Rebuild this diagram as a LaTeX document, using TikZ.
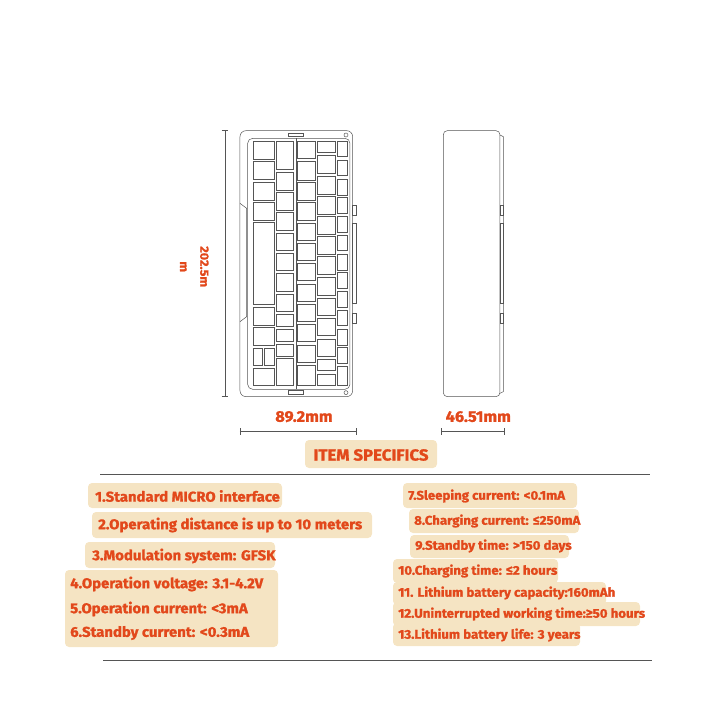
\documentclass[tikz,border=0pt]{standalone}
\usepackage{fontspec}
\newfontfamily\cond[FakeStretch=1.05,FakeBold=1.3]{Fira Sans}
\definecolor{bx}{HTML}{F5E4C3}
\definecolor{tx}{HTML}{E2481B}
\definecolor{ln}{HTML}{555555}
\begin{document}
\begin{tikzpicture}[x=1pt,y=-1pt,
 box/.style={fill=bx,rounded corners=4pt,draw=none},
 lab/.style={text=tx,font=\cond\bfseries\fontsize{14.2}{15}\selectfont,anchor=west,inner sep=0pt},
 rlab/.style={lab,font=\cond\bfseries\fontsize{12.6}{13}\selectfont},
 big/.style={lab,anchor=center,font=\cond\bfseries\fontsize{15.5}{16}\selectfont},
 kb/.style={draw=ln,line width=0.5pt},
 dim/.style={draw=ln,line width=0.6pt}]
\useasboundingbox (0,0) rectangle (715,715);
% keyboard (zoom coordinates)
\begin{scope}[shift={(170,120)},x=0.3333pt,y=-0.3333pt]
\draw[kb,rounded corners=6pt] (210,32) rectangle (548,830);
\draw[kb] (210,250) -- (230,265) -- (230,590) -- (210,605);
\draw[kb,rounded corners=5pt] (233,55) rectangle (540,808);
\draw[kb] (378,55) -- (378,808);
\foreach \a/\b in {65/117,125/177,187/240,248/300,308/553,562/615,623/675,745/797}
 \draw[kb] (250,\a) rectangle (312,\b);
\draw[kb] (250,685) rectangle (278,737); \draw[kb] (282,685) rectangle (312,737);
\foreach \a/\b in {65/148,157/210,218/270,278/330,340/392,400/452,460/515,523/575,583/618,627/665,672/708,715/797}
 \draw[kb] (320,\a) rectangle (370,\b);
\foreach \a/\b in {65/115,125/180,187/240,248/300,310/360,370/422,430/482,492/545,553/605,613/665,675/727,735/797}
 \draw[kb] (383,\a) rectangle (435,\b);
\foreach \a/\b in {65/97,107/160,170/222,230/282,290/342,350/402,410/462,473/525,535/587,595/647,657/710,718/752,762/797}
 \draw[kb] (443,\a) rectangle (495,\b);
\foreach \a/\b in {65/110,120/167,177/225,233/280,290/337,345/392,402/450,457/505,515/562,570/617,628/675,683/730,740/797}
 \draw[kb] (503,\a) rectangle (533,\b);
\draw[kb] (355,40) rectangle (400,50); \draw[kb] (355,812) rectangle (400,822);
\draw[kb] (528,45) circle (6); \draw[kb] (528,818) circle (6);
\draw[kb] (548,255) rectangle (560,285); \draw[kb] (548,310) rectangle (560,550); \draw[kb] (548,580) rectangle (560,610);
% side view
\draw[kb,rounded corners=4pt] (820,32) rectangle (990,830);
\draw[kb] (990,45) -- (1000,50) -- (1000,815) -- (990,820);
\draw[kb] (990,255) rectangle (1000,285); \draw[kb] (990,310) rectangle (1000,550); \draw[kb] (990,580) rectangle (1000,610);
% dimensions
\coordinate (v1) at (165,32); \coordinate (v2) at (165,830);
\draw[dim] (v1) -- (v2); \draw[dim] (155,32) -- (175,32); \draw[dim] (155,830) -- (175,830);
\coordinate (h1) at (210,935); \coordinate (h2) at (560,935);
\draw[dim] (h1) -- (h2); \draw[dim] (210,925) -- (210,945); \draw[dim] (560,925) -- (560,945);
\coordinate (s1) at (815,935); \coordinate (s2) at (1003,935);
\draw[dim] (s1) -- (s2); \draw[dim] (815,925) -- (815,945); \draw[dim] (1003,925) -- (1003,945);
\node[big,rotate=-90,font=\cond\bfseries\fontsize{12}{13}\selectfont] (d1) at (103,440) {202.5m};
\node[big,rotate=-90,font=\cond\bfseries\fontsize{12}{13}\selectfont] (d1b) at (40,440) {m};
\node[big] (d2) at (402,890) {89.2mm};
\node[big] (d3) at (925,890) {46.51mm};
\end{scope}
% title
\fill[box] (305,440) rectangle (437,468);
\node[big,font=\cond\bfseries\fontsize{16}{16}\selectfont] (title) at (371,455) {ITEM SPECIFICS};
\draw[ln,line width=0.8pt] (100,474) -- (650,474);
\draw[ln,line width=0.8pt] (103,660) -- (652,660);
% left
\fill[box] (88,483) rectangle (282,508);
\fill[box] (92,512) rectangle (372,538);
\fill[box] (85,542) rectangle (275,568);
\fill[box] (65,570) rectangle (278,647);
\node[lab] (t1) at (95,496) {1.Standard MICRO interface};
\node[lab] (t2) at (98,525) {2.Operating distance is up to 10 meters};
\node[lab] (t3) at (92,556) {3.Modulation system: GFSK};
\node[lab] (t4) at (70,584) {4.Operation voltage: 3.1-4.2V};
\node[lab] (t5) at (70,609) {5.Operation current: <3mA};
\node[lab] (t6) at (70,633) {6.Standby current: <0.3mA};
% right
\fill[box] (403,483) rectangle (577,508);
\fill[box] (409,509) rectangle (579,533);
\fill[box] (410,535) rectangle (569,558);
\fill[box] (393,559) rectangle (558,583);
\fill[box] (393,582) rectangle (606,605);
\fill[box] (393,602) rectangle (640,626);
\fill[box] (393,623) rectangle (580,646);
\node[rlab] (t7) at (408,496) {7.Sleeping current: <0.1mA};
\node[rlab] (t8) at (414,521) {8.Charging current: ≤250mA};
\node[rlab] (t9) at (415,546) {9.Standby time: >150 days};
\node[rlab] (t10) at (398,571) {10.Charging time: ≤2 hours};
\node[rlab] (t11) at (398,593) {11. Lithium battery capacity:160mAh};
\node[rlab] (t12) at (398,614) {12.Uninterrupted working time:≥50 hours};
\node[rlab] (t13) at (398,635) {13.Lithium battery life: 3 years};
\end{tikzpicture}
\end{document}
